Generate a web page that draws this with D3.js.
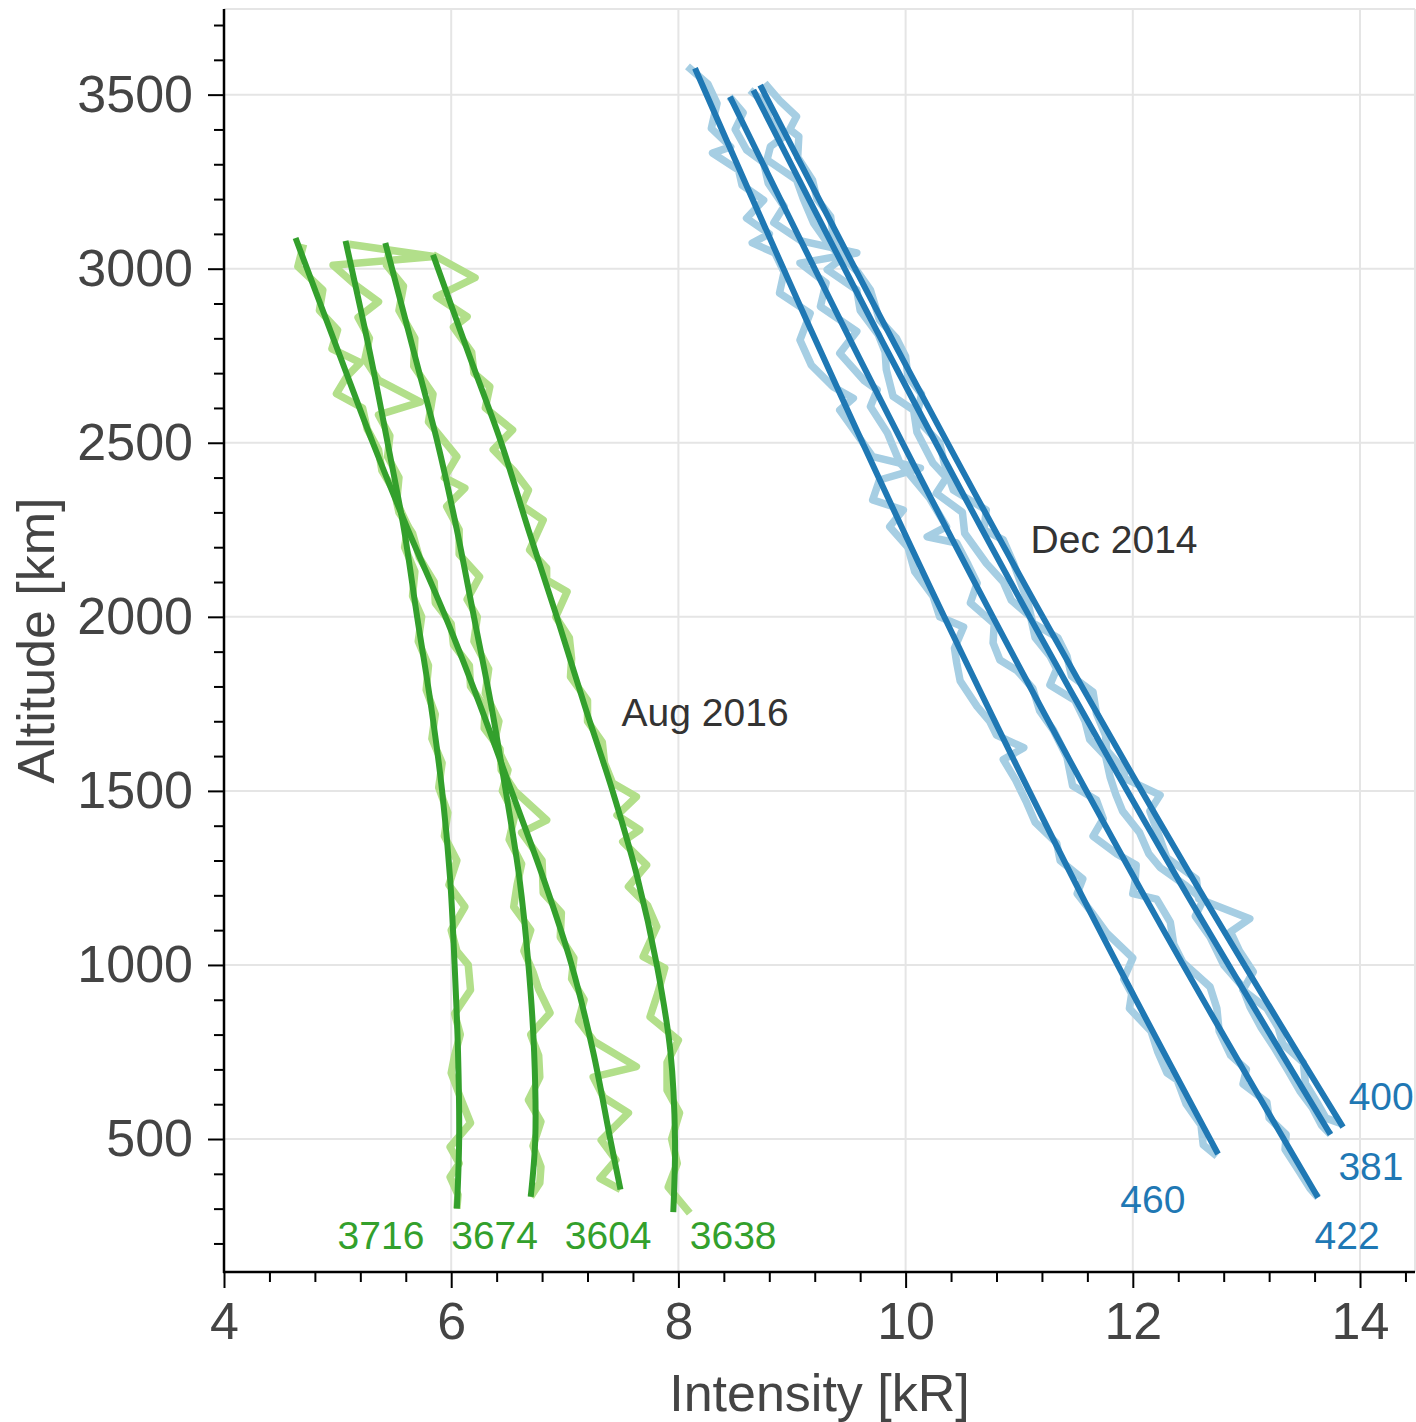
<!DOCTYPE html>
<html>
<head>
<meta charset="utf-8">
<script src="https://cdn.jsdelivr.net/npm/d3@7"></script>
<style>
  body { margin: 0; background: #fff; }
  svg { display: block; }
  text { font-family: "Liberation Sans", Arial, Helvetica, sans-serif; }
</style>
</head>
<body>
<svg id="chart" width="1416" height="1422"></svg>
<script>
// ---- Axis ticks -------------------------------------------------------
const xMajorTicks = [4, 6, 8, 10, 12, 14];
const yMajorTicks = [500, 1000, 1500, 2000, 2500, 3000, 3500];

// ---- Aug 2016 profiles: [altitude km, intensity kR] -------------------
const fit3716 = [[3080,5.07],[2750,5.29],[2500,5.44],[2250,5.585],[2000,5.70],[1750,5.82],[1500,5.92],[1250,5.99],[1000,6.03],[750,6.06],[500,6.07],[300,6.05]];
const fit3674 = [[3074,5.42],[2750,5.68],[2500,5.88],[2250,6.05],[2000,6.20],[1750,6.35],[1500,6.48],[1250,6.60],[1000,6.68],[750,6.73],[500,6.74],[334,6.70]];
const fit3604 = [[3088,4.63],[2750,5.02],[2500,5.31],[2250,5.62],[2000,5.95],[1750,6.25],[1500,6.53],[1250,6.81],[1000,7.06],[750,7.25],[500,7.40],[355,7.49]];
const fit3638 = [[3040,5.84],[2750,6.16],[2500,6.44],[2250,6.68],[2000,6.93],[1750,7.17],[1500,7.42],[1250,7.64],[1000,7.81],[750,7.93],[500,7.97],[290,7.955]];

const obs3716 = [[3070,5.10],[3035,5.85],[3010,4.96],[2950,5.17],[2905,5.36],[2860,5.18],[2800,5.28],[2740,5.24],[2680,5.36],[2617,5.73],[2580,5.36],[2520,5.46],[2460,5.44],[2400,5.54],[2330,5.52],[2260,5.62],[2200,5.59],[2130,5.68],[2060,5.66],[2000,5.74],[1930,5.71],[1860,5.80],[1790,5.78],[1720,5.86],[1650,5.83],[1580,5.92],[1510,5.89],[1437,5.97],[1370,5.94],[1300,6.05],[1230,5.98],[1167,6.12],[1100,6.00],[1040,6.05],[1000,6.15],[928,6.17],[860,6.03],[800,6.08],[740,6.03],[690,6.00],[620,6.08],[546,6.17],[477,5.99],[430,6.07],[391,5.99],[340,6.06],[300,6.05]];
const obs3674 = [[3060,5.46],[3010,5.43],[2950,5.58],[2880,5.54],[2800,5.68],[2720,5.67],[2640,5.84],[2560,5.80],[2460,6.05],[2400,5.94],[2370,6.12],[2317,5.96],[2250,6.07],[2180,6.07],[2115,6.25],[2050,6.14],[2000,6.23],[1930,6.20],[1850,6.33],[1780,6.30],[1700,6.42],[1640,6.38],[1560,6.50],[1500,6.45],[1430,6.56],[1360,6.51],[1290,6.62],[1230,6.58],[1167,6.55],[1100,6.70],[1040,6.64],[980,6.72],[930,6.77],[862,6.87],[800,6.70],[740,6.77],[678,6.78],[612,6.68],[550,6.79],[480,6.72],[420,6.79],[374,6.78],[334,6.70]];
const obs3604 = [[3070,4.70],[3006,4.65],[2939,4.87],[2880,4.84],[2824,5.00],[2770,4.95],[2730,5.20],[2690,5.08],[2641,4.99],[2600,5.22],[2540,5.26],[2480,5.36],[2420,5.39],[2360,5.50],[2300,5.54],[2240,5.66],[2170,5.72],[2100,5.85],[2040,5.86],[1980,6.00],[1920,6.02],[1860,6.16],[1800,6.17],[1740,6.30],[1680,6.29],[1620,6.43],[1560,6.44],[1500,6.56],[1416,6.84],[1380,6.62],[1300,6.80],[1207,6.81],[1150,6.97],[1080,6.96],[1020,7.08],[960,7.06],[900,7.17],[840,7.12],[780,7.26],[708,7.63],[678,7.25],[620,7.34],[575,7.56],[497,7.32],[440,7.45],[387,7.31],[355,7.49]];
const obs3638 = [[3040,5.84],[2974,6.21],[2920,5.87],[2862,6.14],[2832,6.02],[2760,6.18],[2700,6.20],[2661,6.34],[2600,6.30],[2537,6.54],[2480,6.37],[2420,6.55],[2364,6.68],[2320,6.62],[2278,6.81],[2192,6.69],[2140,6.84],[2106,6.84],[2072,7.02],[2000,6.92],[1940,7.04],[1880,7.06],[1828,7.05],[1760,7.20],[1700,7.20],[1640,7.33],[1580,7.35],[1523,7.42],[1483,7.63],[1430,7.46],[1388,7.66],[1354,7.51],[1287,7.72],[1225,7.56],[1170,7.73],[1110,7.81],[1060,7.74],[1024,7.69],[991,7.88],[920,7.82],[851,7.75],[784,8.00],[720,7.90],[640,7.90],[575,8.01],[500,7.94],[430,7.99],[362,7.91],[287,8.10]];

// ---- Dec 2014 profiles ------------------------------------------------
const fit460 = [[3576,8.146],[2800,9.20],[2000,10.34],[1200,11.55],[457,12.75]];
const fit422 = [[3494,8.454],[2700,9.66],[1900,10.93],[1100,12.27],[332,13.63]];
const fit381 = [[3513,8.66],[2760,9.845],[2010,11.075],[1260,12.374],[513,13.74]];
const fit400 = [[3527,8.72],[2780,9.91],[2030,11.156],[1280,12.47],[534,13.85]];

const obs460 = [[3581,8.08],[3530,8.26],[3475,8.34],[3403,8.29],[3350,8.46],[3332,8.30],[3283,8.53],[3240,8.56],[3197,8.75],[3145,8.60],[3100,8.80],[3074,8.65],[3045,8.85],[2990,8.93],[2930,8.89],[2872,9.16],[2795,9.07],[2723,9.17],[2661,9.36],[2628,9.54],[2594,9.42],[2530,9.56],[2460,9.71],[2427,10.13],[2393,9.77],[2336,9.71],[2307,9.98],[2259,9.86],[2200,10.02],[2130,10.08],[2060,10.24],[2000,10.30],[1971,10.51],[1910,10.43],[1867,10.45],[1816,10.48],[1742,10.63],[1700,10.74],[1660,10.80],[1624,11.04],[1590,10.86],[1530,10.97],[1470,11.06],[1410,11.14],[1350,11.33],[1300,11.36],[1247,11.56],[1205,11.51],[1150,11.64],[1092,11.77],[1020,12.00],[960,11.92],[917,11.99],[875,11.97],[810,12.16],[750,12.22],[690,12.30],[670,12.39],[600,12.47],[540,12.60],[483,12.62],[451,12.74]];
const obs422 = [[3494,8.45],[3448,8.57],[3400,8.50],[3341,8.60],[3305,8.75],[3246,8.79],[3179,8.93],[3132,8.84],[3080,9.08],[3045,9.57],[3016,9.07],[2959,9.30],[2891,9.25],[2820,9.57],[2757,9.42],[2680,9.63],[2652,9.75],[2604,9.69],[2528,9.84],[2442,9.95],[2384,10.10],[2341,10.21],[2259,10.36],[2230,10.19],[2212,10.45],[2150,10.55],[2097,10.63],[2040,10.57],[1980,10.78],[1925,10.77],[1876,10.83],[1846,10.98],[1794,11.12],[1730,11.18],[1675,11.30],[1597,11.42],[1515,11.47],[1474,11.68],[1420,11.74],[1370,11.65],[1319,11.86],[1287,12.03],[1240,12.02],[1205,12.00],[1189,12.21],[1123,12.33],[1060,12.36],[1008,12.44],[937,12.68],[875,12.74],[810,12.76],[741,12.86],[700,13.00],[658,12.97],[606,13.18],[560,13.20],[513,13.35],[470,13.34],[420,13.44],[358,13.56],[332,13.63]];
const obs381 = [[3513,8.63],[3480,8.75],[3430,8.80],[3380,8.93],[3351,8.81],[3313,8.78],[3255,9.04],[3200,9.10],[3131,9.19],[3080,9.30],[3030,9.44],[2997,9.31],[2939,9.57],[2880,9.60],[2810,9.76],[2760,9.82],[2710,9.83],[2633,9.89],[2594,10.07],[2530,10.10],[2442,10.24],[2400,10.36],[2355,10.27],[2300,10.50],[2240,10.52],[2154,10.71],[2100,10.86],[2048,10.93],[2000,11.10],[1940,11.14],[1888,11.27],[1850,11.33],[1804,11.27],[1760,11.49],[1700,11.58],[1648,11.62],[1600,11.76],[1540,11.80],[1490,11.85],[1442,11.91],[1380,12.06],[1320,12.14],[1280,12.24],[1227,12.47],[1187,12.62],[1140,12.55],[1080,12.68],[1000,12.80],[940,12.96],[880,13.03],[820,13.13],[760,13.25],[700,13.36],[638,13.47],[590,13.58],[540,13.66],[513,13.74]];
const obs400 = [[3533,8.76],[3480,8.90],[3437,9.04],[3400,8.98],[3380,9.06],[3320,9.05],[3255,9.18],[3200,9.22],[3150,9.34],[3100,9.36],[3054,9.39],[2990,9.58],[2939,9.69],[2853,9.77],[2800,9.92],[2748,10.00],[2690,10.02],[2640,10.14],[2594,10.11],[2557,10.13],[2500,10.30],[2442,10.34],[2364,10.42],[2307,10.71],[2250,10.69],[2221,10.86],[2154,10.95],[2100,11.01],[2048,11.07],[1982,11.12],[1940,11.34],[1888,11.42],[1830,11.46],[1784,11.65],[1722,11.68],[1660,11.76],[1617,11.77],[1560,11.92],[1536,11.93],[1488,12.24],[1442,12.15],[1380,12.22],[1308,12.30],[1247,12.56],[1190,12.58],[1133,13.03],[1095,12.86],[1040,12.94],[980,13.06],[928,12.97],[875,13.18],[820,13.28],[773,13.32],[720,13.50],[660,13.52],[606,13.62],[560,13.70],[545,13.83]];

// ---- Profile labels (orbit numbers) and campaign names -----------------
const augOrbits = ["3716", "3674", "3604", "3638"];
const augOrbitLabelX = [5.0, 6.0, 7.0, 8.1];
const augOrbitLabelAlt = [184, 184, 184, 184];
const decOrbits = ["460", "422", "381", "400"];
const decOrbitLabelX = [11.89, 13.60, 13.81, 13.90];
const decOrbitLabelAlt = [287, 184, 382, 583];
const campaignNames = ["Aug 2016", "Dec 2014"];
const campaignLabelX = [7.5, 11.1];
const campaignLabelAlt = [1686, 2183];

// ---- Layout -----------------------------------------------------------
const plot = { left: 224, right: 1415, top: 9, bottom: 1272 };
const svg = d3.select("#chart");

const x = d3.scaleLinear().domain([4, 14.484]).range([plot.left, plot.right]);
const y = d3.scaleLinear().domain([118, 3746]).range([plot.bottom, plot.top]);

const xMinor = d3.range(4, 14.41, 0.4).map(v => +v.toFixed(1)).filter(v => !xMajorTicks.includes(v));
const yMinor = d3.range(200, 3701, 100).filter(v => !yMajorTicks.includes(v));

const gridColor = "#e5e5e5";
const textColor = "#444444";

// grid
const grid = svg.append("g");
grid.selectAll(".gx").data(xMajorTicks).join("line")
  .attr("x1", d => x(d)).attr("x2", d => x(d))
  .attr("y1", plot.top).attr("y2", plot.bottom)
  .attr("stroke", gridColor).attr("stroke-width", 2);
grid.selectAll(".gy").data(yMajorTicks).join("line")
  .attr("x1", plot.left).attr("x2", plot.right)
  .attr("y1", d => y(d)).attr("y2", d => y(d))
  .attr("stroke", gridColor).attr("stroke-width", 2);
// top and right frame
grid.append("line").attr("x1", plot.left).attr("x2", plot.right)
  .attr("y1", plot.top).attr("y2", plot.top)
  .attr("stroke", gridColor).attr("stroke-width", 2);
grid.append("line").attr("x1", plot.right).attr("x2", plot.right)
  .attr("y1", plot.top).attr("y2", plot.bottom)
  .attr("stroke", gridColor).attr("stroke-width", 2);

// profiles
const line = d3.line()
  .x(d => x(d[1]))
  .y(d => y(d[0]));
const smooth = d3.line()
  .x(d => x(d[1]))
  .y(d => y(d[0]))
  .curve(d3.curveCatmullRom.alpha(0.5));

const lightGreen = "#b2df8a", darkGreen = "#33a02c";
const lightBlue = "#a6cee3", darkBlue = "#1f78b4";

const obsSeries = [
  { data: obs460, color: lightBlue }, { data: obs422, color: lightBlue },
  { data: obs381, color: lightBlue }, { data: obs400, color: lightBlue },
  { data: obs3716, color: lightGreen }, { data: obs3674, color: lightGreen },
  { data: obs3604, color: lightGreen }, { data: obs3638, color: lightGreen }
];
const fitSeries = [
  { data: fit460, color: darkBlue }, { data: fit422, color: darkBlue },
  { data: fit381, color: darkBlue }, { data: fit400, color: darkBlue },
  { data: fit3716, color: darkGreen }, { data: fit3674, color: darkGreen },
  { data: fit3604, color: darkGreen }, { data: fit3638, color: darkGreen }
];

const marks = svg.append("g");
marks.selectAll(".obs").data(obsSeries).join("path")
  .attr("d", d => line(d.data))
  .attr("fill", "none").attr("stroke", d => d.color)
  .attr("stroke-width", 7.5).attr("stroke-linejoin", "round").attr("stroke-linecap", "butt");
marks.selectAll(".fit").data(fitSeries).join("path")
  .attr("d", d => smooth(d.data))
  .attr("fill", "none").attr("stroke", d => d.color)
  .attr("stroke-width", 6).attr("stroke-linecap", "butt");

// axes
const axisFont = 52;
const xAxis = svg.append("g").attr("transform", `translate(0,${plot.bottom})`)
  .call(d3.axisBottom(x).tickValues(xMajorTicks).tickSize(16).tickPadding(14).tickFormat(d3.format("d")));
const xAxisMinor = svg.append("g").attr("transform", `translate(0,${plot.bottom})`)
  .call(d3.axisBottom(x).tickValues(xMinor).tickSize(10).tickFormat(""));
const yAxis = svg.append("g").attr("transform", `translate(${plot.left},0)`)
  .call(d3.axisLeft(y).tickValues(yMajorTicks).tickSize(16).tickPadding(15).tickFormat(d3.format("d")));
const yAxisMinor = svg.append("g").attr("transform", `translate(${plot.left},0)`)
  .call(d3.axisLeft(y).tickValues(yMinor).tickSize(10).tickFormat(""));

[xAxis, xAxisMinor, yAxis, yAxisMinor].forEach(g => {
  g.select(".domain").remove();
  g.selectAll(".tick line").attr("stroke", "#000").attr("stroke-width", 2);
  g.selectAll(".tick text").attr("fill", textColor)
    .style("font-size", axisFont + "px")
    .style("font-family", '"Liberation Sans", Arial, sans-serif');
});
// spines
svg.append("line").attr("x1", plot.left).attr("x2", plot.left)
  .attr("y1", plot.top).attr("y2", plot.bottom + 1)
  .attr("stroke", "#000").attr("stroke-width", 2.5);
svg.append("line").attr("x1", plot.left - 1).attr("x2", plot.right)
  .attr("y1", plot.bottom).attr("y2", plot.bottom)
  .attr("stroke", "#000").attr("stroke-width", 2.5);

// axis titles
svg.append("text")
  .attr("x", (plot.left + plot.right) / 2).attr("y", 1411)
  .attr("text-anchor", "middle").attr("fill", textColor)
  .style("font-size", axisFont + "px")
  .text("Intensity [kR]");
svg.append("text")
  .attr("transform", `translate(54,${(plot.top + plot.bottom) / 2}) rotate(-90)`)
  .attr("text-anchor", "middle").attr("fill", textColor)
  .style("font-size", axisFont + "px")
  .text("Altitude [km]");

// orbit labels
const labelFont = 39;
svg.append("g").selectAll("text").data(augOrbits).join("text")
  .attr("x", (d, i) => x(augOrbitLabelX[i]))
  .attr("y", (d, i) => y(augOrbitLabelAlt[i]))
  .attr("fill", darkGreen).style("font-size", labelFont + "px")
  .text(d => d);
svg.append("g").selectAll("text").data(decOrbits).join("text")
  .attr("x", (d, i) => x(decOrbitLabelX[i]))
  .attr("y", (d, i) => y(decOrbitLabelAlt[i]))
  .attr("fill", darkBlue).style("font-size", labelFont + "px")
  .text(d => d);
svg.append("g").selectAll("text").data(campaignNames).join("text")
  .attr("x", (d, i) => x(campaignLabelX[i]))
  .attr("y", (d, i) => y(campaignLabelAlt[i]))
  .attr("fill", "#333333").style("font-size", labelFont + "px")
  .text(d => d);
</script>
</body>
</html>
